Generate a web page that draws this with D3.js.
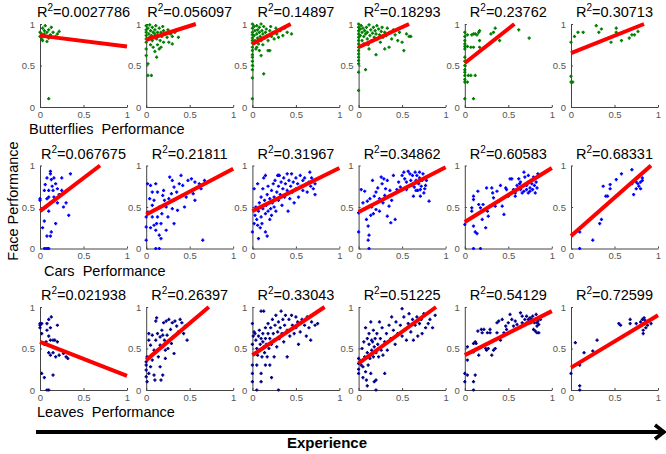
<!DOCTYPE html>
<html>
<head>
<meta charset="utf-8">
<script src="https://cdn.jsdelivr.net/npm/d3@7"></script>
<style>
  html, body { margin: 0; padding: 0; background: #fff; }
  svg { display: block; font-family: Arial, "Liberation Sans", sans-serif; }
</style>
</head>
<body>
<div id="chart"></div>
<script>
// row labels and R^2 titles
const rowLabels = ["Butterflies  Performance", "Cars  Performance", "Leaves  Performance"];
const rowColors = ["#008000", "#0000ff", "#00008b"];
const r2Labels = [
    ["0.0027786", "0.056097", "0.14897", "0.18293", "0.23762", "0.30713"],
    ["0.067675", "0.21811", "0.31967", "0.34862", "0.60583", "0.68331"],
    ["0.021938", "0.26397", "0.33043", "0.51225", "0.54129", "0.72599"]
];
// fitted lines (intercept, slope)
const fitIntercepts = [
    [0.86, 0.81, 0.76, 0.72, 0.53, 0.65],
    [0.45, 0.41, 0.45, 0.44, 0.32, 0.15],
    [0.58, 0.36, 0.42, 0.32, 0.42, 0.27]
];
const fitSlopes = [
    [-0.13, 0.333, 0.545, 0.483, 0.825, 0.417],
    [0.797, 0.55, 0.52, 0.54, 0.65, 0.924],
    [-0.41, 0.889, 0.699, 0.764, 0.53, 0.63]
];
const tickValues = [0, 0.5, 1];

// Butterflies (experience, face performance)
const butterflies = [
    [[0,0.85],[0,0.9],[0.02,0.82],[0.03,0.95],[0.05,0.88],[0.05,0.92],[0.06,0.98],[0.07,0.85],[0.08,0.9],[0.1,0.93],[0.1,0.83],[0.12,0.87],[0.13,0.96],[0.15,0.9],[0.18,0.85],[0.2,0.88],[0.22,0.91],[0.03,0.8],[0.08,0.79],[0.1,0.1],[0.02,0.88],[0.04,0.86]],
    [[0,0.98],[0,0.93],[0,0.9],[0,0.86],[0,0.82],[0,0.78],[0,0.7],[0,0.62],[0.02,0.52],[0.02,0.38],[0.06,0.38],[0.02,0.95],[0.03,0.88],[0.04,0.84],[0.04,0.99],[0.05,0.92],[0.06,0.86],[0.07,0.8],[0.07,0.96],[0.08,0.9],[0.09,0.84],[0.1,0.93],[0.1,0.88],[0.1,0.67],[0.11,0.98],[0.12,0.82],[0.12,0.6],[0.13,0.9],[0.14,0.86],[0.15,0.95],[0.15,0.7],[0.16,0.8],[0.17,0.9],[0.17,0.72],[0.18,0.85],[0.19,0.97],[0.2,0.92],[0.2,0.78],[0.22,0.88],[0.24,0.84],[0.25,0.93],[0.26,0.78],[0.28,0.88],[0.3,0.85],[0.3,0.76],[0.33,0.9],[0.37,0.84],[0.05,0.75],[0.08,0.72],[0.13,0.75]],
    [[0,1],[0,0.95],[0,0.9],[0,0.87],[0,0.83],[0,0.8],[0,0.77],[0,0.72],[0,0.68],[0,0.63],[0,0.6],[0,0.55],[0,0.5],[0,0.45],[0,0.35],[0,0.1],[0.02,0.97],[0.02,0.86],[0.03,0.92],[0.03,0.8],[0.04,0.7],[0.05,0.98],[0.05,0.88],[0.06,0.83],[0.06,0.93],[0.07,0.76],[0.08,0.9],[0.08,0.96],[0.09,0.85],[0.1,1],[0.1,0.8],[0.1,0.62],[0.11,0.92],[0.12,0.88],[0.12,0.75],[0.13,0.4],[0.13,0.97],[0.14,0.83],[0.15,0.9],[0.16,0.94],[0.17,0.86],[0.18,0.68],[0.18,0.8],[0.2,0.68],[0.2,0.92],[0.21,0.97],[0.22,0.85],[0.24,0.9],[0.25,0.82],[0.27,0.95],[0.28,0.88],[0.3,0.84],[0.32,0.92],[0.35,0.86],[0.37,0.95],[0.4,0.9],[0.45,0.88],[0.05,0.72],[0.08,0.68]],
    [[0,1],[0,0.96],[0,0.92],[0,0.88],[0,0.84],[0,0.8],[0,0.76],[0,0.72],[0,0.68],[0,0.64],[0,0.6],[0,0.56],[0,0.52],[0,0.42],[0,0.2],[0.02,0.94],[0.02,0.86],[0.03,0.98],[0.04,0.9],[0.04,0.8],[0.05,0.95],[0.06,0.85],[0.07,0.92],[0.08,0.88],[0.08,0.45],[0.09,0.96],[0.1,0.82],[0.1,0.9],[0.11,0.75],[0.12,0.99],[0.13,0.86],[0.14,0.93],[0.15,0.8],[0.16,0.89],[0.17,0.96],[0.18,0.84],[0.19,0.92],[0.2,0.63],[0.2,0.88],[0.21,0.98],[0.22,0.82],[0.23,0.94],[0.24,0.87],[0.25,0.78],[0.26,0.91],[0.27,0.96],[0.28,0.84],[0.3,0.7],[0.3,0.9],[0.32,0.86],[0.33,0.95],[0.35,0.72],[0.36,0.9],[0.38,0.82],[0.4,0.93],[0.42,0.87],[0.45,0.8],[0.47,0.9],[0.5,0.78],[0.52,0.68],[0.55,0.88],[0.58,0.85],[0.6,0.85],[0.12,0.7],[0.06,0.76]],
    [[0,0.9],[0,0.85],[0,0.8],[0,0.76],[0,0.73],[0,0.7],[0,0.6],[0,0.55],[0,0.5],[0,0.45],[0,0.42],[0,0.38],[0,0.33],[0,0.3],[0,0.1],[0.03,0.87],[0.03,0.73],[0.03,0.3],[0.04,0.38],[0.07,0.38],[0.07,0.72],[0.08,0.87],[0.1,0.88],[0.1,0.72],[0.1,0.1],[0.12,0.88],[0.12,0.38],[0.14,0.87],[0.16,0.9],[0.17,0.92],[0.17,0.8],[0.17,0.72],[0.3,0.88],[0.33,0.9],[0.35,0.95],[0.4,0.8],[0.62,0.93],[0.74,0.83]],
    [[0,0.78],[0,0.37],[0,0.3],[0.02,0.3],[0.04,0.85],[0.08,0.9],[0.14,0.9],[0.29,0.98],[0.32,0.9],[0.35,0.94],[0.46,0.78],[0.52,0.95],[0.52,0.9],[0.58,0.8],[0.67,0.83],[0.7,0.87],[0.73,0.87],[0.77,0.91]]
];

// Cars
const cars = [
    [[0,0.6],[0,0.58],[0.03,0.25],[0.05,0.33],[0.05,0.7],[0.06,0.77],[0.08,0.85],[0.08,0.6],[0.1,0.7],[0.1,0.62],[0.12,0.93],[0.12,0.9],[0.13,0.83],[0.14,0.75],[0.15,0.7],[0.12,0.55],[0.16,0.62],[0.18,0.78],[0.2,0.72],[0.2,0.55],[0.22,0.65],[0.25,0.7],[0.27,0.5],[0.3,0.55],[0.33,0.4],[0.35,0.9],[0.05,0],[0.07,0],[0.09,0],[0.1,0],[0.08,0.15],[0.12,0.15],[0.13,0.2],[0.18,0.3],[0.1,0.45],[0.07,0.5],[0.16,0.85],[0.25,0.85]],
    [[0.015,0.78],[0.05,0.76],[0.07,0.68],[0.11,0.78],[0.13,0.68],[0.09,0.58],[0.07,0.52],[0.09,0.46],[0.07,0.38],[0.09,0.28],[0.11,0.22],[0.15,0.16],[0.17,0.12],[0.11,0],[0.15,0],[0,0.1],[0,0.26],[0,0.38],[0.02,0.44],[0.19,0.64],[0.21,0.58],[0.23,0.5],[0.27,0.86],[0.3,0.82],[0.32,0.74],[0.29,0.66],[0.32,0.58],[0.3,0.48],[0.25,0.38],[0.23,0.22],[0.32,0.3],[0.38,0.78],[0.4,0.88],[0.42,0.76],[0.48,0.82],[0.52,0.84],[0.56,0.8],[0.54,0.66],[0.46,0.62],[0.36,0.46],[0.61,0.78],[0.63,0.72],[0.67,0.82],[0.65,0.1],[0.17,0.3],[0.13,0.38],[0.44,0.5],[0.56,0.58],[0.04,0.6],[0.15,0.5],[0.18,0.42],[0.2,0.7],[0.26,0.6],[0.35,0.68],[0.05,0.25],[0.12,0.3]],
    [[0,0.2],[0.02,0.3],[0.03,0.4],[0.04,0.5],[0.05,0.35],[0.06,0.28],[0.07,0.12],[0.07,0.45],[0.08,0.55],[0.09,0.25],[0.1,0.38],[0.1,0.62],[0.11,0.3],[0.12,0.48],[0.12,0.72],[0.13,0.85],[0.14,0.58],[0.15,0.42],[0.15,0.2],[0.16,0.52],[0.17,0.65],[0.17,0.15],[0.18,0.75],[0.18,0.45],[0.19,0.55],[0.2,0.35],[0.2,0.6],[0.21,0.48],[0.22,0.7],[0.22,0.4],[0.23,0.55],[0.24,0.78],[0.25,0.5],[0.25,0.62],[0.26,0.82],[0.27,0.45],[0.28,0.68],[0.29,0.88],[0.3,0.58],[0.3,0.75],[0.31,0.88],[0.32,0.65],[0.33,0.8],[0.34,0.52],[0.35,0.72],[0.36,0.85],[0.37,0.62],[0.38,0.78],[0.4,0.9],[0.4,0.7],[0.41,0.45],[0.42,0.82],[0.43,0.6],[0.44,0.75],[0.45,0.9],[0.46,0.68],[0.47,0.8],[0.48,0.55],[0.5,0.85],[0.5,0.72],[0.52,0.78],[0.53,0.62],[0.55,0.88],[0.56,0.75],[0.58,0.82],[0.58,0.7],[0.6,0.85],[0.62,0.78],[0.63,0.68],[0.65,0.8],[0.66,0.92],[0.67,0.75],[0.68,0.85],[0.7,0.72],[0.7,0.82],[0.72,0.65],[0.72,0.78],[0.02,0.72],[0.15,0.88],[0.3,0.88],[0.06,0.78]],
    [[0,0.2],[0,0.43],[0.03,0.71],[0.07,0.69],[0.1,0.57],[0.09,0.35],[0.11,0.27],[0.11,0.1],[0.12,0],[0.12,0.16],[0.16,0.82],[0.18,0.63],[0.2,0.47],[0.22,0.73],[0.26,0.86],[0.28,0.55],[0.29,0.84],[0.31,0.72],[0.33,0.39],[0.35,0.51],[0.37,0.31],[0.4,0.88],[0.42,0.35],[0.44,0.71],[0.46,0.8],[0.52,0.92],[0.53,0.84],[0.55,0.71],[0.59,0.9],[0.61,0.76],[0.63,0.63],[0.67,0.88],[0.69,0.78],[0.71,0.71],[0.73,0.82],[0.75,0.67],[0.77,0.76],[0.81,0.57],[0.71,0.63],[0.05,0.55],[0.08,0.48],[0.13,0.6],[0.15,0.5],[0.17,0.42],[0.2,0.68],[0.24,0.6],[0.27,0.78],[0.3,0.64],[0.33,0.82],[0.36,0.7],[0.38,0.58],[0.48,0.74],[0.5,0.88],[0.55,0.8],[0.57,0.93],[0.6,0.82],[0.62,0.88],[0.64,0.74],[0.65,0.92],[0.66,0.82],[0.68,0.7],[0.7,0.85],[0.72,0.75],[0.74,0.9],[0.76,0.72],[0.78,0.82],[0.7,0.92],[0.66,0.7],[0.14,0.4],[0.24,0.45]],
    [[0,0.29],[0.08,0.49],[0.08,0.45],[0.1,0.63],[0.1,0.59],[0.1,0.27],[0.1,0],[0.12,0.2],[0.14,0.18],[0.15,0.69],[0.16,0.53],[0.18,0.49],[0.18,0],[0.2,0.35],[0.21,0.53],[0.24,0.25],[0.25,0.73],[0.26,0.45],[0.27,0.39],[0.29,0.51],[0.31,0.73],[0.32,0.67],[0.33,0.61],[0.35,0.51],[0.37,0.69],[0.39,0.57],[0.41,0.76],[0.43,0.51],[0.45,0.41],[0.47,0.73],[0.48,0.71],[0.5,0.63],[0.52,0.84],[0.54,0.84],[0.56,0.71],[0.58,0.67],[0.6,0.76],[0.62,0.84],[0.63,0.78],[0.64,0.71],[0.66,0.67],[0.68,0.92],[0.69,0.86],[0.71,0.76],[0.71,0.71],[0.73,0.88],[0.73,0.8],[0.75,0.73],[0.75,0.69],[0.76,0.82],[0.77,0.78],[0.78,0.71],[0.79,0.86],[0.8,0.76],[0.81,0.67],[0.82,0.8],[0.83,0.73],[0.84,0.9],[0.73,0.67],[0.68,0.69],[0.64,0.8],[0.58,0.63]],
    [[0.1,0.2],[0.1,0],[0.25,0.1],[0.33,0.3],[0.35,0.35],[0.37,0.75],[0.4,0.63],[0.42,0.63],[0.45,0.72],[0.45,0.77],[0.52,0.83],[0.58,0.9],[0.7,0.95],[0.7,0.78],[0.72,0.65],[0.75,0.8],[0.77,0.78],[0.78,0.75],[0.8,0.8],[0.82,0.85],[0.8,0.72],[0.82,0.82],[0.75,0.72]]
];

// Leaves
const leaves = [
    [[0,0.8],[0,0.78],[0,0.75],[0.02,0.8],[0.02,0.68],[0.02,0.2],[0.05,0.15],[0.08,0.8],[0.08,0.72],[0.1,0.85],[0.12,0.75],[0.13,0.88],[0.1,0.65],[0.12,0.6],[0.15,0.6],[0.17,0.6],[0.2,0.58],[0.1,0.45],[0.12,0.42],[0.15,0.45],[0.18,0.4],[0.22,0.42],[0.27,0.44],[0.3,0.4],[0.32,0.38],[0.08,0],[0.1,0],[0.15,0.18],[0.07,0.58],[0.2,0.78],[0.05,0.55]],
    [[0,0.16],[0,0.24],[0,0.3],[0,0.34],[0.01,0.4],[0.01,0.1],[0.03,0.6],[0.03,0.68],[0.05,0.54],[0.07,0.36],[0.09,0.18],[0.1,0.12],[0.11,0.83],[0.12,0.87],[0.13,0.68],[0.13,0.48],[0.16,0.64],[0.16,0.28],[0.17,0.12],[0.18,0.72],[0.19,0.18],[0.2,0.81],[0.21,0.6],[0.22,0.48],[0.23,0.83],[0.24,0.66],[0.25,0.5],[0.26,0.85],[0.28,0.73],[0.29,0.56],[0.3,0.81],[0.31,0.64],[0.32,0.44],[0.33,0.83],[0.35,0.77],[0.37,0.7],[0.39,0.85],[0.41,0.81],[0.43,0.68],[0.45,0.77],[0.47,0.6],[0.14,0.4],[0.07,0.66],[0.11,0.6],[0.16,0.54],[0.22,0.38],[0.03,0.2],[0.09,0.48],[0.05,0.28],[0.19,0.66],[0.27,0.6]],
    [[0,0.8],[0,0.55],[0,0.3],[0,0.2],[0,0.1],[0.01,0.65],[0.02,0.7],[0.03,0.68],[0.04,0.6],[0.05,0.5],[0.05,0.3],[0.05,0],[0.06,0.42],[0.07,0.65],[0.08,0.72],[0.08,0.48],[0.09,0.55],[0.1,0.95],[0.1,0.62],[0.1,0.2],[0.1,0.1],[0.11,0.4],[0.12,0.58],[0.12,0.68],[0.13,0.95],[0.13,0.52],[0.14,0.45],[0.15,0.75],[0.15,0.62],[0.15,0.3],[0.16,0.55],[0.17,0.4],[0.18,0.68],[0.18,0.8],[0.19,0.5],[0.2,0.62],[0.2,0.3],[0.21,0.75],[0.22,0.15],[0.22,0.55],[0.23,0.85],[0.24,0.68],[0.25,0.4],[0.25,0.6],[0.26,0.78],[0.27,0.9],[0.28,0.52],[0.29,0.7],[0.3,0],[0.3,0.82],[0.31,0.62],[0.32,0.75],[0.33,0.95],[0.34,0.68],[0.35,0.85],[0.36,0.58],[0.37,0.78],[0.38,0.9],[0.4,0.4],[0.4,0.72],[0.42,0.85],[0.43,0.65],[0.45,0.9],[0.46,0.78],[0.48,0.68],[0.5,0.88],[0.5,0.75],[0.52,0.82],[0.53,0.55],[0.55,0.7],[0.57,0.85],[0.6,0.78],[0.62,0.65],[0.63,0.88],[0.65,0.75],[0.67,0.6],[0.68,0.82],[0.72,0.78],[0.75,0.8]],
    [[0,0.38],[0,0.32],[0,0.25],[0,0.2],[0.02,0.35],[0.03,0.3],[0.04,0.5],[0.05,0.28],[0.05,0.15],[0.06,0.58],[0.07,0.4],[0.08,0.75],[0.08,0.22],[0.09,0.12],[0.1,0.05],[0.1,0.62],[0.1,0.45],[0.11,0.3],[0.12,0.55],[0.12,0.68],[0.13,0.38],[0.14,0.82],[0.14,0.2],[0.15,0.6],[0.15,0.48],[0.16,0.58],[0.17,0.72],[0.17,0.4],[0.18,0.1],[0.18,0.52],[0.19,0.62],[0.2,0.12],[0.2,0.45],[0.2,0],[0.21,0.68],[0.22,0.55],[0.23,0.4],[0.24,0.82],[0.25,0.62],[0.26,0.48],[0.27,0.75],[0.28,0.42],[0.3,0.58],[0.3,0.2],[0.32,0.68],[0.33,0.48],[0.35,0.78],[0.37,0.62],[0.38,0.88],[0.4,0.72],[0.42,0.55],[0.43,0.82],[0.45,0.68],[0.48,0.78],[0.5,0.98],[0.5,0.65],[0.52,0.88],[0.53,0.72],[0.55,0.6],[0.57,0.8],[0.58,0.92],[0.6,0.7],[0.62,0.85],[0.63,0.6],[0.65,0.78],[0.67,0.88],[0.68,0.65],[0.7,0.8],[0.72,0.85],[0.73,0.68],[0.75,0.92],[0.77,0.75],[0.8,0.8],[0.82,0.85],[0.85,0.75],[0.88,0.9]],
    [[0,0.2],[0,0.1],[0.03,0.18],[0.03,0.52],[0.03,0.36],[0.1,0.1],[0.1,0],[0.12,0.18],[0.1,0.46],[0.1,0.56],[0.12,0.58],[0.13,0.56],[0.15,0.71],[0.16,0.42],[0.19,0.73],[0.2,0.69],[0.22,0.73],[0.24,0.5],[0.25,0.48],[0.26,0.69],[0.27,0.5],[0.29,0.73],[0.29,0.69],[0.31,0.42],[0.33,0.48],[0.35,0.5],[0.37,0.81],[0.37,0.69],[0.39,0.83],[0.41,0.6],[0.43,0.85],[0.45,0.69],[0.47,0.77],[0.48,0.73],[0.5,0.81],[0.52,0.91],[0.54,0.85],[0.56,0.77],[0.58,0.83],[0.6,0.79],[0.64,0.93],[0.66,0.89],[0.66,0.81],[0.69,0.85],[0.71,0.89],[0.73,0.85],[0.74,0.83],[0.75,0.87],[0.76,0.81],[0.77,0.85],[0.78,0.89],[0.79,0.83],[0.8,0.81],[0.81,0.85],[0.82,0.91],[0.83,0.81],[0.84,0.83],[0.85,0.79],[0.83,0.77],[0.81,0.71],[0.83,0.69],[0.85,0.69],[0.87,0.85],[0.79,0.73],[0.75,0.81],[0.71,0.81]],
    [[0,0.2],[0.05,0.57],[0.1,0.3],[0.1,0.05],[0.1,0],[0.15,0.45],[0.25,0.47],[0.3,0.6],[0.55,0.8],[0.57,0.78],[0.68,0.85],[0.68,0.8],[0.75,0.8],[0.8,0.82],[0.82,0.85],[0.84,0.87],[0.85,0.8],[0.83,0.72],[0.83,0.68],[0.86,0.75],[0.88,0.78],[0.92,0.8],[0.85,0.84]]
];

const allRows = [butterflies, cars, leaves];

const W = 666, H = 454;
const colLeft = 40, colStep = 106.2, panelW = 87;
const rowTop = 24, rowStep = 141.5, panelH = 83;

const svg = d3.select("#chart").append("svg")
    .attr("width", W)
    .attr("height", H);

// small "+" marker like matlab's
const plus = "M-1.6,0H1.6M0,-1.6V1.6";

allRows.forEach((row, r) => {
    const top = rowTop + r * rowStep;
    row.forEach((pts, c) => {
        const left = colLeft + c * colStep;
        const x = d3.scaleLinear().domain([0, 1]).range([left, left + panelW]);
        const y = d3.scaleLinear().domain([0, 1]).range([top + panelH, top]);
        const g = svg.append("g");

        // axes (left + bottom only, matlab style)
        g.append("g")
            .attr("transform", `translate(0,${top + panelH})`)
            .call(d3.axisBottom(x).tickValues(tickValues).tickFormat(d3.format("~g"))
                .tickSizeInner(-2).tickSizeOuter(0).tickPadding(4))
            .call(a => a.selectAll("text").attr("font-size", 9.5).attr("fill", "#555"))
            .call(a => a.selectAll("line,path").attr("stroke", "#444"));
        g.append("g")
            .attr("transform", `translate(${left},0)`)
            .call(d3.axisLeft(y).tickValues(tickValues).tickFormat(d3.format("~g"))
                .tickSizeInner(-2).tickSizeOuter(0).tickPadding(5))
            .call(a => a.selectAll("text").attr("font-size", 9.5).attr("fill", "#555"))
            .call(a => a.selectAll("line,path").attr("stroke", "#444"));

        g.append("g").selectAll("path")
            .data(pts)
            .join("path")
            .attr("d", plus)
            .attr("transform", d => `translate(${x(d[0])},${y(d[1])})`)
            .attr("fill", "none")
            .attr("stroke", rowColors[r])
            .attr("stroke-width", 1.5);

        // regression line, stops where it leaves the box
        const b = fitIntercepts[r][c], m = fitSlopes[r][c];
        let xEnd = 1;
        if (m > 0 && b + m > 1) xEnd = (1 - b) / m;
        g.append("line")
            .attr("x1", x(0)).attr("y1", y(b))
            .attr("x2", x(xEnd)).attr("y2", y(b + m * xEnd))
            .attr("stroke", "#ff0000")
            .attr("stroke-width", 4);

        const t = g.append("text")
            .attr("x", left + panelW / 2)
            .attr("y", top - 7)
            .attr("text-anchor", "middle")
            .attr("font-size", 14.5)
            .attr("fill", "#000");
        t.append("tspan").text("R");
        t.append("tspan").attr("font-size", 10).attr("dy", -6).text("2");
        t.append("tspan").attr("dy", 6).text("=" + r2Labels[r][c]);
    });

    svg.append("text")
        .attr("x", [29, 44, 37][r])
        .attr("y", top + panelH + 27)
        .attr("font-size", 14.5)
        .style("white-space", "pre")
        .text(rowLabels[r]);
});

svg.append("text")
    .attr("transform", "translate(18,201) rotate(-90)")
    .attr("text-anchor", "middle")
    .attr("font-size", 14.5)
    .text("Face Performance");

// experience arrow
svg.append("line")
    .attr("x1", 36).attr("y1", 432)
    .attr("x2", 662).attr("y2", 432)
    .attr("stroke", "#000")
    .attr("stroke-width", 4);
svg.append("path")
    .attr("d", "M655,425 L664,432 L655,439")
    .attr("fill", "none")
    .attr("stroke", "#000")
    .attr("stroke-width", 3.5);

svg.append("text")
    .attr("x", 327)
    .attr("y", 448)
    .attr("text-anchor", "middle")
    .attr("font-size", 15)
    .attr("font-weight", "bold")
    .text("Experience");
</script>
</body>
</html>
